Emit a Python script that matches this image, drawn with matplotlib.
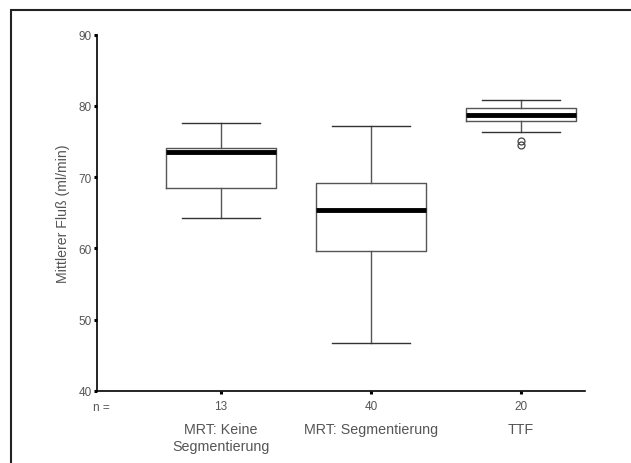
import matplotlib.pyplot as plt
from matplotlib.patches import Rectangle

plt.rcParams['font.family'] = ['Liberation Sans', 'DejaVu Sans']

# box statistics
categories = ["MRT: Keine\nSegmentierung", "MRT: Segmentierung", "TTF"]
counts = [13, 40, 20]
whislo = [64.3, 46.8, 76.35]
q1 = [68.45, 59.65, 77.9]
med = [73.5, 65.45, 78.8]
q3 = [74.1, 69.15, 79.65]
whishi = [77.55, 77.2, 80.85]
fliers = [[], [], [75.05, 74.5]]

txt_col = "#555555"
line_col = "#555555"

fig = plt.figure(figsize=(6.31, 4.64), dpi=100)
W, H = 631, 464
ax = fig.add_axes([97 / W, 72 / H, (585 - 97) / W, (428.3 - 72) / H])

stats = []
for i in range(len(categories)):
    stats.append(dict(med=med[i], q1=q1[i], q3=q3[i], whislo=whislo[i],
                      whishi=whishi[i], fliers=fliers[i], label=str(counts[i])))

ax.bxp(stats, positions=[1, 2, 3], widths=0.73, capwidths=0.52,
       boxprops=dict(color=line_col, linewidth=1.0),
       whiskerprops=dict(color=line_col, linewidth=1.0),
       capprops=dict(color="#333333", linewidth=1.0),
       medianprops=dict(color="black", linewidth=3.5, solid_capstyle="butt"),
       flierprops=dict(marker="o", markerfacecolor="none", markeredgecolor="#444444",
                       markersize=5, markeredgewidth=0.9))

ax.set_xlim(0.173, 3.427)
ax.set_ylim(40, 90)
ax.set_yticks([40, 50, 60, 70, 80, 90])
ax.spines['top'].set_visible(False)
ax.spines['right'].set_visible(False)
ax.spines['left'].set_linewidth(1.2)
ax.spines['bottom'].set_linewidth(1.2)
ax.tick_params(axis='y', direction='out', length=2.2, width=2.2, color='black',
               labelsize=8.5, labelcolor=txt_col, pad=1.5)
ax.tick_params(axis='x', direction='out', length=2.2, width=2.2, color='black',
               labelsize=8.5, labelcolor=txt_col, pad=4.5)
ax.set_ylabel("Mittlerer Fluß (ml/min)", fontsize=10.2, color=txt_col, labelpad=6)

# category names below the counts
for i, name in enumerate(categories):
    ax.annotate(name, xy=(i + 1, 0), xycoords=('data', 'axes fraction'),
                xytext=(0, -22), textcoords='offset points', ha='center', va='top',
                fontsize=10.3, color=txt_col, linespacing=1.3)
ax.annotate("n =", xy=(0, 0), xycoords='axes fraction', xytext=(3, -11.5),
            textcoords='offset points', ha='center', va='center', fontsize=8.5, color=txt_col)

# outer frame, cut off at right and bottom
fig.patches.append(Rectangle((11 / W, -0.2), 1.2, 1.2 - 10.5 / H, transform=fig.transFigure,
                             fill=False, edgecolor="#222222", linewidth=1.5))

fig.savefig("out.png", dpi=100, facecolor="white")
